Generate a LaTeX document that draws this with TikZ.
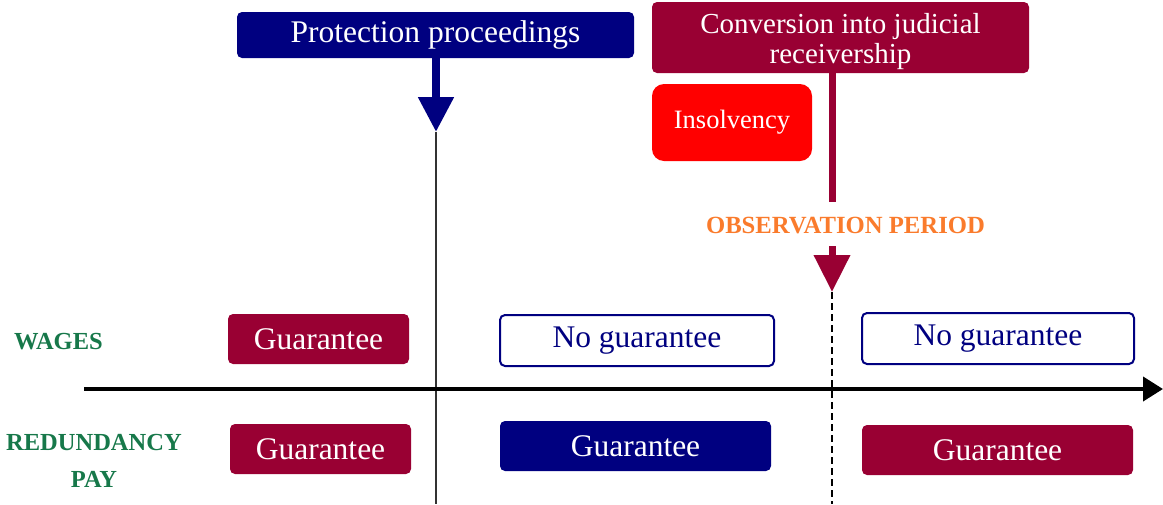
\documentclass[tikz,border=0pt]{standalone}
\usepackage{fontspec}
\setmainfont{Liberation Serif}
\usetikzlibrary{arrows.meta}
\definecolor{navy}{HTML}{000080}
\definecolor{maroon}{HTML}{990033}
\definecolor{brightred}{HTML}{FF0000}
\definecolor{obsorange}{HTML}{FA7B2C}
\definecolor{labgreen}{HTML}{17784A}
\tikzset{
  fbox/.style={rounded corners=5pt, inner sep=0pt, text=white, align=center,
    font=\fontsize{31.5}{33}\selectfont},
  maroonbox/.style={fbox, fill=maroon},
  navybox/.style={fbox, fill=navy},
  nobox/.style={fbox, fill=white, draw=navy, line width=2pt, text=navy},
  rowlabel/.style={text=labgreen, font=\bfseries\fontsize{24.5}{37}\selectfont, align=center, inner sep=0pt},
}
\begin{document}
\begin{tikzpicture}[x=1pt,y=-1pt]
\useasboundingbox (0,0) rectangle (1163,504);
% top boxes
\node[navybox, minimum width=397pt, minimum height=46pt] (prot) at (435.5,35) {Protection proceedings};
\node[maroonbox, minimum width=377pt, minimum height=71pt, font=\fontsize{29}{29.5}\selectfont] (conv) at (840.5,37.5) {\rule{0pt}{28pt}Conversion into judicial\\receivership};
\node[fbox, fill=brightred, rounded corners=12pt, minimum width=160pt, minimum height=77pt, font=\fontsize{26.5}{28}\selectfont] (insol) at (732,122.5) {Insolvency};
\node[text=obsorange, font=\bfseries\fontsize{24.7}{26}\selectfont, inner sep=0pt] (obs) at (845.5,226) {OBSERVATION PERIOD};
% coordinates
\coordinate (ptip) at (436,132);
\coordinate (pbot) at (436,504);
\coordinate (cshaftend) at (832,202);
\coordinate (cstart2) at (832,246);
\coordinate (ctip) at (832,292);
\coordinate (cbot) at (832,504);
\coordinate (axstart) at (84,389);
\coordinate (axend) at (1163,389);
% vertical lines
\draw[line width=2.5pt, black!80] (ptip) -- (pbot);
\draw[line width=2.5pt, black, dash pattern=on 7pt off 4pt] (ctip) -- (cbot);
% arrows
\draw[navy, line width=8pt, -{Triangle[length=35pt,width=34pt]}] (prot.south -| ptip) -- (ptip);
\draw[maroon, line width=7pt] (conv.south -| cshaftend) -- (cshaftend);
\draw[maroon, line width=7pt, -{Triangle[length=37pt,width=35pt]}] (cstart2) -- (ctip);
% axis
\draw[black, line width=4pt, -{Triangle[length=20pt,width=24pt]}] (axstart) -- (axend);
% row labels
\node[rowlabel] (wages) at (58.5,342) {WAGES};
\node[rowlabel] (redpay) at (94,461) {REDUNDANCY\\PAY};
% row boxes
\node[maroonbox, minimum width=181pt, minimum height=50pt] (wg1) at (318.5,339) {Guarantee};
\node[maroonbox, minimum width=181pt, minimum height=50pt] (rg1) at (320.5,449) {Guarantee};
\node[nobox, minimum width=274pt, minimum height=51pt] (wn2) at (637,340.5) {No guarantee};
\node[nobox, minimum width=272pt, minimum height=51pt] (wn3) at (998,338.5) {No guarantee};
\node[navybox, minimum width=271pt, minimum height=50pt] (rg2) at (635.5,446) {Guarantee};
\node[maroonbox, minimum width=271pt, minimum height=50pt] (rg3) at (997.5,450) {Guarantee};
\end{tikzpicture}
\end{document}
